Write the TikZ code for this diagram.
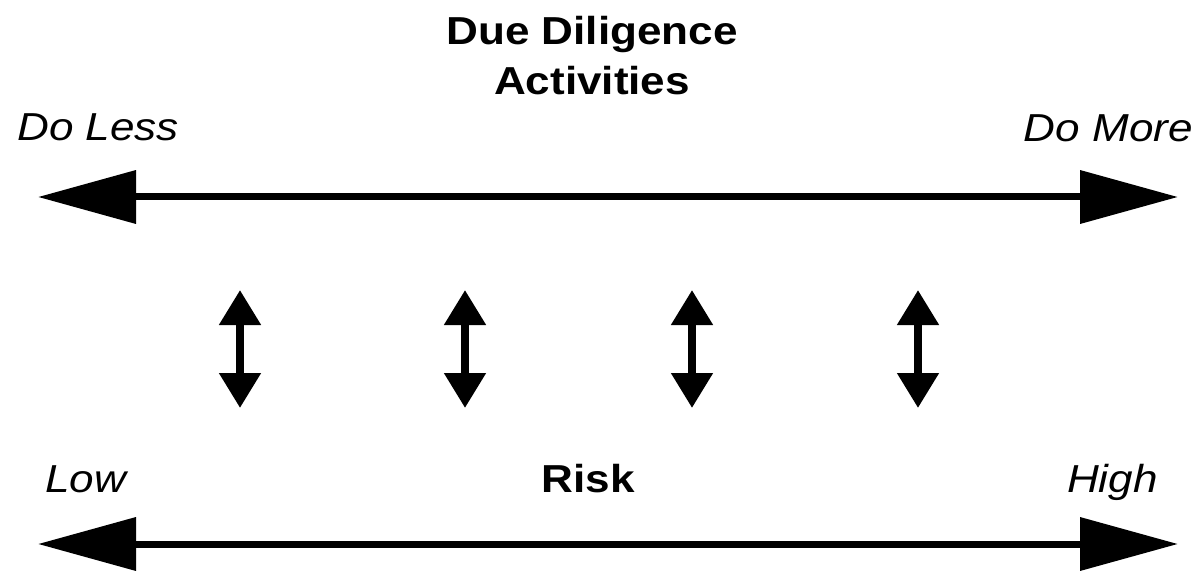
\documentclass[tikz,border=0pt]{standalone}
\usepackage{fontspec}
\setmainfont{Liberation Sans}[FakeStretch=1.13]
\usetikzlibrary{arrows.meta}
\tikzset{
  lbl/.style={inner sep=0pt, font=\fontsize{39bp}{47bp}\selectfont},
  ital/.style={lbl, font=\fontsize{39bp}{47bp}\selectfont\itshape},
  bld/.style={lbl, font=\fontsize{39bp}{47bp}\selectfont\bfseries},
  bigarrow/.style={line width=7bp, {Triangle[length=98bp,width=52bp]}-{Triangle[length=98bp,width=52bp]}},
  smallarrow/.style={line width=8bp, {Triangle[length=35bp,width=40bp]}-{Triangle[length=35bp,width=40bp]}}
}
\begin{document}
\begin{tikzpicture}[x=1bp,y=-1bp]
\useasboundingbox (0,0) rectangle (1201,571);
% titles
\node[bld, anchor=base] (t1) at (592,45) {Due Diligence};
\node[bld, anchor=base] (t2) at (592,95) {Activities};
\node[ital, anchor=base west] (less) at (17,141) {Do Less};
\node[ital, anchor=base east] (more) at (1193,142) {Do More};
% top arrow
\coordinate (tl) at (38,197);
\coordinate (tr) at (1178,197);
\draw[bigarrow] (tl) -- (tr);
% small arrows
\foreach \i/\x in {1/240,2/465,3/692,4/918}{
  \coordinate (s\i a) at (\x,290);
  \coordinate (s\i b) at (\x,408);
  \draw[smallarrow] (s\i a) -- (s\i b);
}
% bottom labels
\node[ital, anchor=base west] (low) at (45,492) {Low};
\node[bld, anchor=base] (risk) at (588,492) {Risk};
\node[ital, anchor=base east] (high) at (1158,492) {High};
% bottom arrow
\coordinate (bl) at (38,544);
\coordinate (br) at (1178,544);
\draw[bigarrow] (bl) -- (br);
\end{tikzpicture}
\end{document}
